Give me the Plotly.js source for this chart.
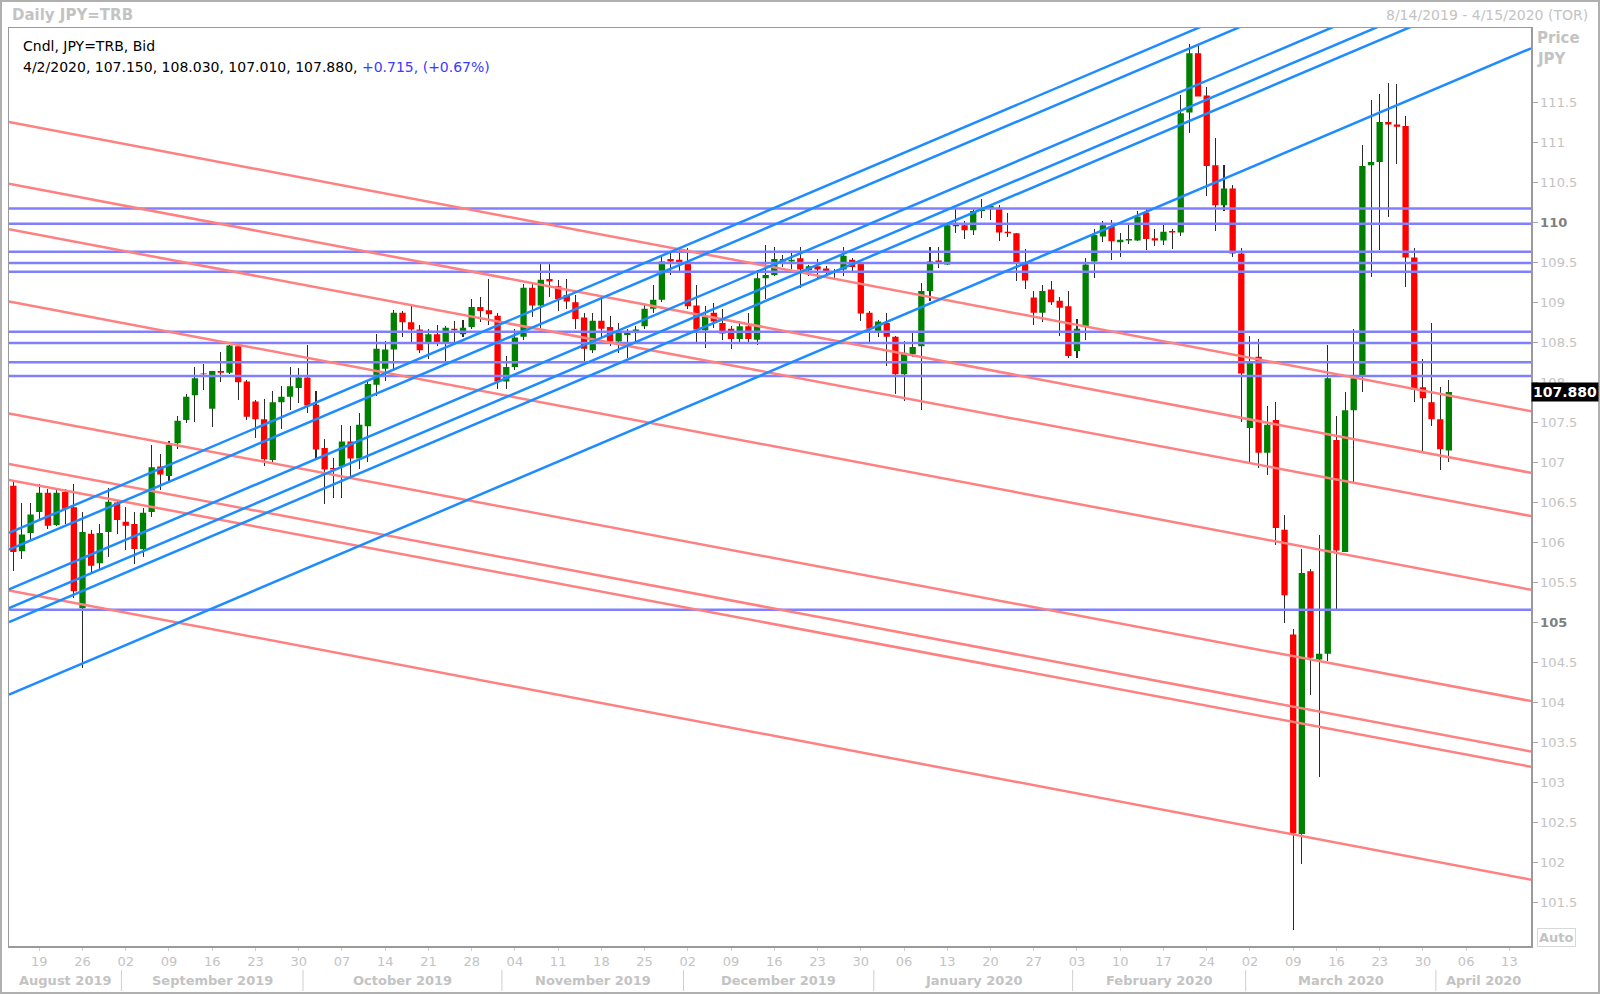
<!DOCTYPE html>
<html><head><meta charset="utf-8">
<script src="https://cdn.plot.ly/plotly-3.0.1.min.js"></script>
<style>html,body{margin:0;padding:0;background:#fff;}#chart{width:1600px;height:994px;}</style>
</head><body><div id="chart"></div>
<script>
// ---------- DATA ----------
const startDate = '2019-08-14';
const endDate = '2020-04-15';
const symbol = 'JPY=TRB';
const open = [106.71,105.89,106.12,106.38,106.62,106.22,106.63,106.44,105.18,106.11,105.74,106.13,106.50,106.26,106.23,105.92,106.38,106.95,106.83,107.24,107.53,107.84,108.11,107.67,108.14,108.12,108.45,108.01,107.76,107.54,107.03,107.75,107.82,107.93,108.06,107.72,107.18,106.93,106.95,107.26,107.05,107.45,107.97,108.17,108.41,108.87,108.75,108.66,108.50,108.60,108.50,108.67,108.60,108.69,108.94,108.90,108.83,108.01,108.19,108.57,109.18,108.96,109.29,109.20,109.09,109.00,108.81,108.40,108.77,108.69,108.51,108.59,108.62,108.70,108.92,109.03,109.54,109.53,109.49,108.96,108.65,108.87,108.74,108.67,108.54,108.70,108.53,109.30,109.34,109.51,109.51,109.55,109.40,109.45,109.42,109.39,109.41,109.53,109.48,108.87,108.64,108.74,108.57,108.10,108.35,108.45,109.14,109.52,109.47,109.95,109.96,109.90,110.14,110.18,110.18,109.88,109.86,109.49,109.06,108.87,109.16,109.02,108.95,108.39,108.70,109.51,109.82,109.95,109.75,109.77,109.77,110.12,109.80,109.77,109.89,109.87,111.37,112.11,111.58,110.71,110.21,110.42,109.61,107.43,108.32,107.12,107.53,106.16,104.85,102.36,105.64,104.54,104.61,107.28,105.88,107.65,108.07,110.71,110.75,111.25,111.22,111.20,109.56,107.94,107.75,107.54,107.150];
const high = [106.76,106.49,106.49,106.73,106.67,106.66,106.67,106.73,106.38,106.15,106.23,106.68,106.53,106.44,106.38,106.43,107.22,107.10,107.27,107.58,107.86,108.19,108.23,108.14,108.38,108.47,108.47,108.03,107.78,107.79,107.89,107.96,108.19,108.18,108.46,107.89,107.29,107.05,107.47,107.46,107.62,108.00,108.60,108.52,108.90,108.89,108.97,108.72,108.66,108.72,108.70,108.76,108.78,109.04,109.07,109.29,108.87,108.33,108.67,109.23,109.24,109.49,109.49,109.28,109.29,109.09,108.87,108.87,109.05,108.83,108.74,108.67,108.70,108.96,109.22,109.59,109.64,109.68,109.68,109.21,108.95,108.99,108.92,108.70,108.76,108.87,109.40,109.71,109.69,109.59,109.61,109.69,109.47,109.54,109.45,109.42,109.69,109.55,109.50,108.89,108.78,108.87,108.58,108.51,108.61,109.24,109.69,109.69,109.96,110.17,110.01,110.18,110.29,110.22,110.22,110.12,109.87,109.66,109.14,109.21,109.27,109.07,109.14,108.79,109.55,109.91,110.01,110.03,109.87,109.97,110.14,110.16,109.92,109.97,109.92,111.59,112.22,112.21,111.69,111.05,110.71,110.47,109.68,108.58,108.54,107.70,107.75,106.34,104.92,105.92,105.67,106.09,108.46,107.58,107.88,108.67,110.96,111.53,111.60,111.74,111.72,111.32,109.68,108.29,108.74,107.94,108.030];
const low = [105.65,105.80,106.03,106.27,106.17,106.20,106.23,105.31,104.43,105.62,105.67,105.82,106.10,105.91,105.73,105.82,106.32,106.65,106.77,107.17,107.49,107.51,107.91,107.44,108.01,108.10,107.78,107.53,107.31,106.95,107.01,107.42,107.65,107.74,107.62,107.04,106.48,106.56,106.56,106.83,106.92,107.01,107.83,108.02,108.16,108.57,108.50,108.37,108.29,108.45,108.26,108.50,108.57,108.66,108.75,108.72,107.92,107.92,108.15,108.53,108.82,108.68,109.07,108.89,108.92,108.66,108.26,108.37,108.57,108.45,108.36,108.30,108.50,108.66,108.87,109.00,109.34,109.39,108.91,108.50,108.43,108.68,108.53,108.42,108.50,108.50,108.47,109.04,109.33,109.44,109.42,109.18,109.33,109.29,109.34,109.30,109.33,109.39,108.76,108.50,108.57,108.21,107.85,107.77,108.32,107.65,109.02,109.43,109.46,109.87,109.79,109.84,110.05,110.03,109.76,109.82,109.26,109.17,108.72,108.75,108.97,108.58,108.30,108.30,108.53,109.30,109.75,109.53,109.57,109.73,109.76,109.65,109.70,109.72,109.66,109.83,111.11,111.57,110.33,109.89,110.14,109.57,107.51,107.00,106.93,106.84,105.97,104.99,101.16,101.99,104.10,103.07,104.52,105.17,105.88,106.76,107.88,109.31,109.65,110.07,110.73,109.19,107.75,107.14,107.46,106.91,107.010];
const close = [105.88,106.10,106.35,106.62,106.21,106.62,106.42,105.39,106.13,105.71,106.12,106.51,106.28,106.21,105.92,106.37,106.94,106.85,107.22,107.52,107.82,108.05,108.10,108.14,108.12,108.46,108.00,107.57,107.54,107.04,107.75,107.82,107.95,108.06,107.71,107.16,106.91,106.91,107.26,107.05,107.47,107.98,108.42,108.41,108.87,108.75,108.66,108.40,108.60,108.50,108.68,108.65,108.68,108.94,108.89,108.85,108.01,108.19,108.56,109.18,108.96,109.28,109.26,109.04,109.01,108.79,108.42,108.77,108.67,108.51,108.62,108.62,108.66,108.92,109.03,109.51,109.51,109.50,108.95,108.66,108.82,108.76,108.61,108.54,108.70,108.54,109.30,109.34,109.54,109.54,109.53,109.41,109.45,109.41,109.39,109.38,109.58,109.44,108.86,108.67,108.76,108.57,108.10,108.37,108.44,109.14,109.51,109.48,109.96,109.97,109.90,110.14,110.16,110.20,109.87,109.86,109.49,109.27,108.87,109.14,109.00,108.93,108.33,108.67,109.47,109.84,109.96,109.76,109.78,109.79,110.07,109.79,109.77,109.88,109.87,111.36,112.11,111.57,110.70,110.21,110.42,109.61,108.11,108.26,107.12,107.47,106.18,105.34,102.37,105.62,104.56,104.61,108.05,105.90,107.65,108.05,110.70,110.75,111.25,111.22,111.19,109.56,107.91,107.80,107.54,107.165,107.880];

// horizontal support / resistance levels (JPY)
const hLevels = [110.17, 109.98, 109.63, 109.49, 109.38, 108.63, 108.49, 108.25, 108.08, 105.16];
// descending (red) trend lines: price at left edge / right edge of the axis
const redStart = [111.25, 110.48, 109.91, 109.01, 107.61, 106.98, 106.78, 105.40];
const redEnd   = [107.64, 106.87, 106.33, 105.41, 104.02, 103.39, 103.20, 101.79];
// ascending (blue) trend lines
const blueStart = [106.12, 105.91, 105.415, 105.18, 105.005, 104.10];
const blueEnd   = [114.19, 113.98, 113.485, 113.25, 113.075, 112.17];

const yTicks = [101.5,102,102.5,103,103.5,104,104.5,105,105.5,106,106.5,107,107.5,108,108.5,109,109.5,110,110.5,111,111.5];
const boldTicks = [105, 110];
const monthNames = ['January','February','March','April','May','June','July','August','September','October','November','December'];

// ---------- CALENDAR (weekdays only) ----------
const calendar = [];
{
  let d = new Date(startDate + 'T00:00:00Z');
  const e = new Date(endDate + 'T00:00:00Z');
  while (d <= e) {
    const wd = d.getUTCDay();
    if (wd !== 0 && wd !== 6) calendar.push(new Date(d.getTime()));
    d = new Date(d.getTime() + 86400000);
  }
}
const xIdx = open.map((_, i) => i);
const xMin = -0.5, xMax = calendar.length - 0.5;
const pad2 = v => (v < 10 ? '0' : '') + v;

const tickVals = [], tickText = [];
calendar.forEach((d, i) => { if (d.getUTCDay() === 1) { tickVals.push(i); tickText.push(pad2(d.getUTCDate())); } });

const months = [];
calendar.forEach((d, i) => {
  const key = d.getUTCFullYear() * 12 + d.getUTCMonth();
  const last = months[months.length - 1];
  if (!last || last.key !== key) months.push({key, first: i, last: i, name: monthNames[d.getUTCMonth()] + ' ' + d.getUTCFullYear()});
  else last.last = i;
});

// ---------- GEOMETRY HELPERS ----------
const W = 1600, H = 994;
const M = {l: 9, r: 69, t: 28, b: 48};
const PW = W - M.l - M.r, PH = H - M.t - M.b;
const px = x => (x - M.l) / PW;
const py = y => 1 - (y - M.t) / PH;
const ix = i => (i - xMin) / (xMax - xMin);

const FONT = 'DejaVu Sans, Verdana, sans-serif';
const LIGHT = '#c3c3c3';

// ---------- TRACES ----------
const traces = [];
traces.push({
  type: 'bar', x: xIdx, base: low, y: high.map((h, i) => h - low[i]),
  width: 0.12, marker: {color: '#2a2a2a', line: {width: 0}}, hoverinfo: 'skip', showlegend: false
});
traces.push({
  type: 'candlestick', x: xIdx, open, high, low, close,
  increasing: {fillcolor: '#008000', line: {color: '#008000', width: 0}},
  decreasing: {fillcolor: '#ff0000', line: {color: '#ff0000', width: 0}},
  whiskerwidth: 0, showlegend: false, hoverinfo: 'skip'
});
function segTrace(starts, ends, color) {
  const xs = [], ys = [];
  starts.forEach((s, k) => { xs.push(xMin, xMax, null); ys.push(s, ends[k], null); });
  return {type: 'scatter', mode: 'lines', x: xs, y: ys, line: {color, width: 2.5}, hoverinfo: 'skip', showlegend: false};
}
traces.push(segTrace(hLevels, hLevels, '#8080ff'));
traces.push(segTrace(redStart, redEnd, '#ff8080'));
traces.push(segTrace(blueStart, blueEnd, '#1e8cff'));

// ---------- ANNOTATIONS ----------
const n = close.length;
const lastDate = calendar[n - 1];
const chg = close[n - 1] - close[n - 2];
const pct = chg / close[n - 2] * 100;
const dateStr = (lastDate.getUTCMonth() + 1) + '/' + lastDate.getUTCDate() + '/' + lastDate.getUTCFullYear();
const ohlcStr = [open[n-1], high[n-1], low[n-1], close[n-1]].map(v => v.toFixed(3)).join(', ');

const annotations = [
  {xref: 'paper', yref: 'paper', x: px(10), y: py(14.5), xanchor: 'left', yanchor: 'middle', showarrow: false,
   text: '<b>Daily ' + symbol + '</b>', font: {family: FONT, size: 15, color: LIGHT}},
  {xref: 'paper', yref: 'paper', x: px(1590), y: py(14.5), xanchor: 'right', yanchor: 'middle', showarrow: false,
   text: '8/14/2019 - 4/15/2020 (TOR)', font: {family: FONT, size: 14, color: LIGHT}},
  {xref: 'paper', yref: 'paper', x: px(21), y: py(45.5), xanchor: 'left', yanchor: 'middle', showarrow: false,
   text: 'Cndl, ' + symbol + ', Bid', font: {family: FONT, size: 14, color: '#000'}},
  {xref: 'paper', yref: 'paper', x: px(21), y: py(67), xanchor: 'left', yanchor: 'middle', showarrow: false,
   text: dateStr + ', ' + ohlcStr + ', <span style="color:#3a3aff">' + (chg >= 0 ? '+' : '') + chg.toFixed(3) + ', (' + (pct >= 0 ? '+' : '') + pct.toFixed(2) + '%)</span>',
   font: {family: FONT, size: 14, color: '#000'}},
  {xref: 'paper', yref: 'paper', x: px(1535), y: py(38.5), xanchor: 'left', yanchor: 'middle', showarrow: false,
   text: '<b>Price</b>', font: {family: FONT, size: 15, color: LIGHT}},
  {xref: 'paper', yref: 'paper', x: px(1535), y: py(59.5), xanchor: 'left', yanchor: 'middle', showarrow: false,
   text: '<b>JPY</b>', font: {family: FONT, size: 15, color: LIGHT}},
  {xref: 'paper', yref: 'y', x: px(1531), y: close[n - 1], xanchor: 'left', yanchor: 'middle', showarrow: false,
   text: '<b>' + close[n - 1].toFixed(3) + '</b>', bgcolor: '#000', borderpad: 1,
   font: {family: FONT, size: 14, color: '#fff'}},
  {xref: 'paper', yref: 'paper', x: px(1537), y: py(937), xanchor: 'left', yanchor: 'middle', showarrow: false,
   text: '<b>Auto</b>', bordercolor: '#d8d8d8', borderwidth: 1, borderpad: 1,
   font: {family: FONT, size: 13, color: LIGHT}}
];
months.forEach(m => {
  const a = Math.max(m.first - 0.5, xMin), b = Math.min(m.last + 0.5, xMax);
  annotations.push({xref: 'paper', yref: 'paper', x: (ix(a) + ix(b)) / 2, y: py(980.5), xanchor: 'center', yanchor: 'middle',
    showarrow: false, text: '<b>' + m.name + '</b>', font: {family: FONT, size: 13, color: LIGHT}});
});

// ---------- SHAPES ----------
const shapes = [];
months.slice(1).forEach(m => {
  const xp = ix(m.first - 0.5);
  shapes.push({type: 'line', xref: 'paper', yref: 'paper', x0: xp, x1: xp, y0: py(970), y1: py(991), line: {color: '#cfcfcf', width: 1}});
});
shapes.push({type: 'rect', xref: 'paper', yref: 'paper', x0: px(1), x1: px(1599), y0: py(993), y1: py(1), line: {color: '#b0b0b0', width: 2}});

const yTickText = yTicks.map(v => boldTicks.includes(v) ? '<span style="color:#808080"><b>' + v + '</b></span>' : String(v));

const layout = {
  width: W, height: H, margin: M,
  paper_bgcolor: '#fff', plot_bgcolor: '#fff',
  showlegend: false, dragmode: false,
  boxgap: 0.27, boxgroupgap: 0, bargap: 0,
  xaxis: {
    range: [xMin, xMax], tickmode: 'array', tickvals: tickVals, ticktext: tickText,
    ticks: 'outside', ticklen: 3, tickcolor: '#d0d0d0', tickwidth: 1,
    tickfont: {family: FONT, size: 13, color: LIGHT},
    showgrid: false, zeroline: false, showline: true, mirror: true, linecolor: '#9a9a9a', linewidth: 1.5,
    rangeslider: {visible: false}, fixedrange: true
  },
  yaxis: {
    side: 'right', range: [100.962, 112.424], tickmode: 'array', tickvals: yTicks, ticktext: yTickText,
    ticks: 'outside', ticklen: 5, tickcolor: '#a8a8a8', tickwidth: 1,
    tickfont: {family: FONT, size: 13, color: LIGHT},
    showgrid: false, zeroline: false, showline: true, mirror: true, linecolor: '#9a9a9a', linewidth: 1.5,
    fixedrange: true
  },
  annotations, shapes
};

Plotly.newPlot('chart', traces, layout, {displayModeBar: false, staticPlot: true});
</script>
</body></html>
